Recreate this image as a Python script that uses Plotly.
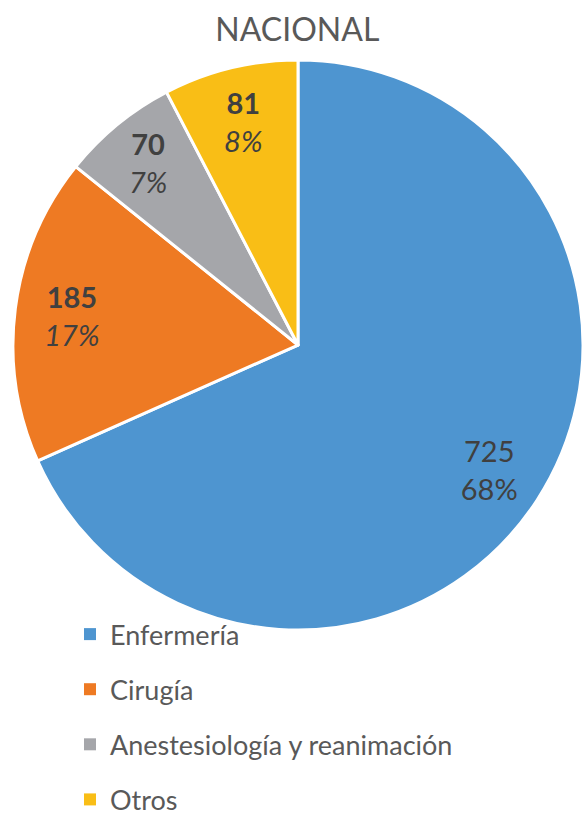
import plotly.graph_objects as go

# data
categories = ["Enfermería", "Cirugía", "Anestesiología y reanimación", "Otros"]
values = [725, 185, 70, 81]
pct_labels = ["68%", "17%", "7%", "8%"]
colors = ["#4E95D0", "#EE7A23", "#A5A6AA", "#F9BE16"]

# first slice plain, the rest bold value / italic percent
texts = []
for i, (v, p) in enumerate(zip(values, pct_labels)):
    if i == 0:
        texts.append(f"{v}<br>{p}")
    else:
        texts.append(f"<b>{v}</b><br><i>{p}</i>")

pie_dom = dict(x=[0, 1], y=[0.248, 1])

fig = go.Figure()
# the slices
fig.add_trace(go.Pie(
    labels=categories, values=values,
    textinfo="none",
    marker=dict(colors=colors, line=dict(color="white", width=3)),
    sort=False, direction="clockwise", rotation=0,
    domain=pie_dom, showlegend=False,
    hoverinfo="label+value+percent",
))
# transparent ring on top, only to push the labels towards the rim like Excel does
fig.add_trace(go.Pie(
    labels=categories, values=values,
    text=texts, textinfo="text", textposition="inside",
    insidetextorientation="horizontal",
    textfont=dict(family="Lato", size=29, color="#404040"),
    marker=dict(colors=["rgba(0,0,0,0)"] * 4, line=dict(width=0)),
    hole=0.6,
    sort=False, direction="clockwise", rotation=0,
    domain=pie_dom, showlegend=False, hoverinfo="skip",
))

# legend entries as dummy traces so the spacing can follow the reference
for name, c in zip(categories, colors):
    fig.add_trace(go.Scatter(
        x=[None], y=[None], mode="markers", name=name, legendgroup=name,
        marker=dict(symbol="square", size=11, color=c),
    ))

fig.update_layout(
    width=583, height=818,
    margin=dict(l=13, r=0, t=60, b=0, autoexpand=False),
    paper_bgcolor="white", plot_bgcolor="white",
    title=dict(text="NACIONAL", x=0.51, xanchor="center", y=0.963, yanchor="middle",
               font=dict(family="Lato", size=32, color="#595959")),
    xaxis=dict(visible=False), yaxis=dict(visible=False),
    legend=dict(x=0.1, xanchor="left", y=-0.008, yanchor="bottom",
                bgcolor="rgba(0,0,0,0)",
                font=dict(family="Lato", size=27, color="#595959"),
                tracegroupgap=17, itemsizing="constant"),
)

fig.write_html("out.html", config={"displayModeBar": False},
               post_script="document.body.style.margin='0';")
